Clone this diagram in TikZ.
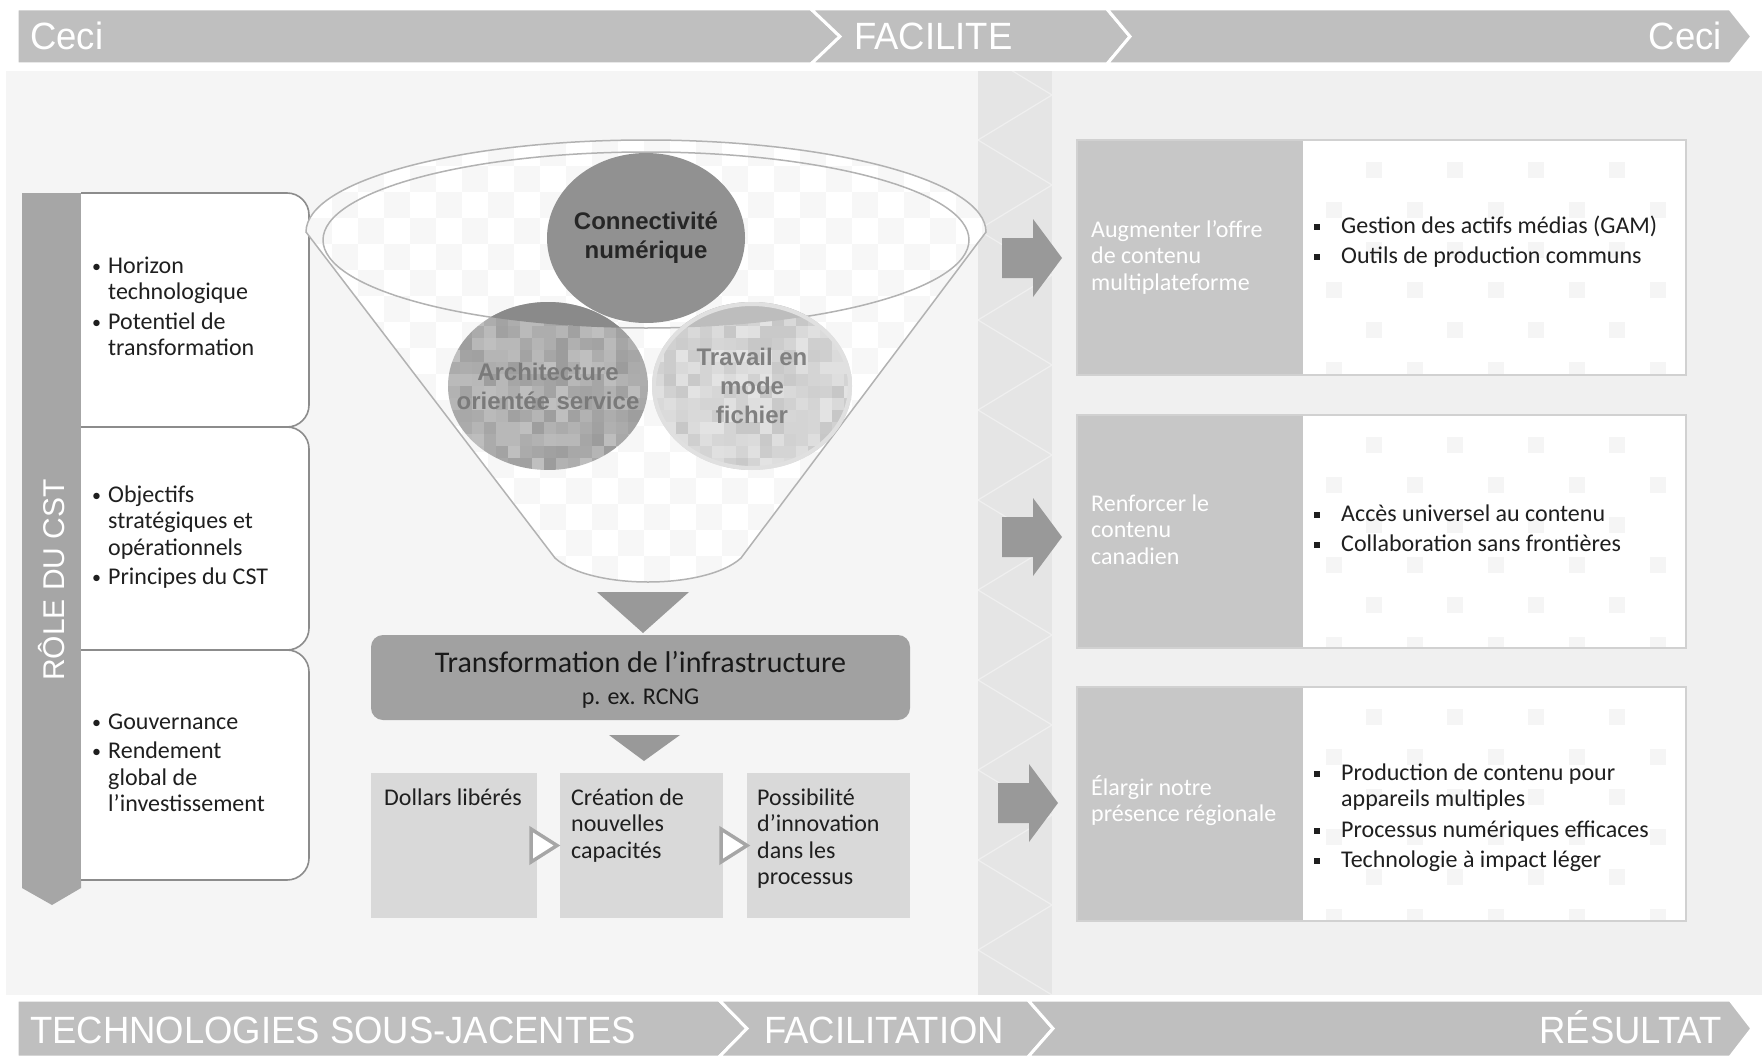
\documentclass[tikz,border=0pt]{standalone}
\usepackage{fontspec}
\setmainfont{Carlito}
\newfontfamily\arialfont{Liberation Sans}
\newfontfamily\barfont[FakeStretch=0.96]{Liberation Sans}
\usetikzlibrary{calc,positioning}
\tikzset{
  bar/.style={fill=black!25, draw=white, line width=3pt},
  bartext/.style={font=\barfont\fontsize{38}{42}\selectfont, text=white, inner sep=0pt},
  rolebox/.style={fill=white, draw=black!45, line width=1.6pt, rounded corners=22pt},
  roletext/.style={font=\arialfont\fontsize{30}{34}\selectfont, text=white, inner sep=0pt, rotate=90},
  txt/.style={inner sep=0pt, anchor=base west, font=\fontsize{24}{26.5}\selectfont, text=black!88},
  whitetxt/.style={txt, text=white},
  funnelline/.style={draw=black!30, line width=1.5pt},
  bubble/.style={inner sep=0pt, align=center, font=\arialfont\bfseries\fontsize{24}{29}\selectfont},
  pointer/.style={fill=black!40},
  infrabox/.style={fill=black!37, rounded corners=12pt, minimum width=539pt, minimum height=85pt, inner sep=0pt},
  flowbox/.style={fill=black!15, minimum height=145pt, inner sep=0pt},
  hollow/.style={fill=white, draw=black!35, line width=3.5pt},
  outbox/.style={fill=black!22},
  outlist/.style={fill=white}
}
\newcommand\stack[1]{\begin{tabular}[t]{@{}l@{}}#1\end{tabular}}
\newcommand\blist[1]{\begin{tabular}[t]{@{}l@{}l@{}}#1\end{tabular}}
\newcommand\bul{\makebox[16pt][l]{\raisebox{1pt}{\fontsize{18}{18}\selectfont\textbullet}}}
\newcommand\sqbul{\makebox[27pt][l]{\rule[3.5pt]{6pt}{6pt}}}

\begin{document}
\begin{tikzpicture}[x=1pt, y=-1pt]
\useasboundingbox (0,0) rectangle (1762,1057);
\fill[white] (0,0) rectangle (1762,1057);

% panels
\fill[black!4] (6,71) rectangle (1762,995);
\fill[black!6] (1052,71) rectangle (1762,995);
\fill[black!10] (978,71) rectangle (1052,995);
\begin{scope}
  \clip (978,71) rectangle (1052,995);
  \foreach \k in {0,...,10}
    \draw[white, opacity=0.4, line width=1.2pt] (978,50+90*\k) -- (1052,95+90*\k) -- (978,140+90*\k);
\end{scope}

% top and bottom bars
\path[bar] (17,9) -- (811,9) -- (840,36.5) -- (811,64) -- (17,64) -- cycle;
\path[bar] (811,9) -- (1107,9) -- (1130,36.5) -- (1107,64) -- (811,64) -- (840,36.5) -- cycle;
\path[bar] (1107,9) -- (1730,9) -- (1752,36.5) -- (1730,64) -- (1107,64) -- (1130,36.5) -- cycle;
\node[bartext, anchor=base west] (ceci1) at (30,50) {Ceci};
\node[bartext, anchor=base west] (facilite) at (854,50) {FACILITE};
\node[bartext, anchor=base east] (ceci2) at (1722,50) {Ceci};

\path[bar] (17,1000) -- (719,1000) -- (747,1028.5) -- (719,1057) -- (17,1057) -- cycle;
\path[bar] (719,1000) -- (1028,1000) -- (1053,1028.5) -- (1028,1057) -- (719,1057) -- (747,1028.5) -- cycle;
\path[bar] (1028,1000) -- (1730,1000) -- (1752,1028.5) -- (1730,1057) -- (1028,1057) -- (1053,1028.5) -- cycle;
\node[bartext, anchor=base west] (techno) at (30,1043) {TECHNOLOGIES SOUS-JACENTES};
\node[bartext, anchor=base west] (facilitation) at (764,1043) {FACILITATION};
\node[bartext, anchor=base east] (resultat) at (1722,1043) {RÉSULTAT};

% role du CST
\fill[black!35] (22,193) -- (81,193) -- (81,888) -- (52,905) -- (22,888) -- cycle;
\node[roletext] (role) at (52,580) {RÔLE DU CST};
\filldraw[rolebox] (81,193) -- (309,193) -- (309,427) -- (81,427);
\filldraw[rolebox] (81,427) -- (309,427) -- (309,650) -- (81,650);
\filldraw[rolebox] (81,650) -- (309,650) -- (309,880) -- (81,880);
\node[txt] (horizon) at (92,273) {\blist{\bul & Horizon\\ & technologique\\[3pt] \bul & Potentiel de\\ & transformation}};
\node[txt] (objectifs) at (92,502) {\blist{\bul & Objectifs\\ & stratégiques et\\ & opérationnels\\[3pt] \bul & Principes du CST}};
\node[txt] (gouv) at (92,729) {\blist{\bul & Gouvernance\\[3pt] \bul & Rendement\\ & global de\\ & l’investissement}};

% funnel
\path[save path=\funnelp] (306,232) arc[start angle=180, end angle=0, x radius=340pt, y radius=92pt]
  -- (741,558) .. controls (706,590) and (590,590) .. (555,558) -- cycle;
\fill[black!3, use path=\funnelp];
\begin{scope}
  \clip[use path=\funnelp];
  \foreach \i in {0,...,26}
    \foreach \j in {0,...,17} {
      \pgfmathtruncatemacro\odd{mod(\i+\j,2)}
      \ifnum\odd=0 \fill[white] (306+26*\i,140+26*\j) rectangle ++(26,26); \fi
    }
\end{scope}
\draw[funnelline, use path=\funnelp];
\draw[funnelline] (646,240) ellipse [x radius=323pt, y radius=88pt];

% bubbles
\pgfmathsetseed{11}
\begin{scope}
  \clip (548,386) ellipse [x radius=100pt, y radius=84pt];
  \foreach \i in {0,...,16}
    \foreach \j in {0,...,13} {
      \pgfmathtruncatemacro\g{25+15*rnd}
      \fill[black!\g] (448+12*\i,302+12*\j) rectangle ++(12,12);
    }
  \fill[black!46] (646,240) ellipse [x radius=323pt, y radius=88pt];
\end{scope}
\begin{scope}
  \clip (752,386) ellipse [x radius=100pt, y radius=84pt];
  \foreach \i in {0,...,16}
    \foreach \j in {0,...,13} {
      \pgfmathtruncatemacro\g{11+12*rnd}
      \fill[black!\g] (652+12*\i,302+12*\j) rectangle ++(12,12);
    }
  \fill[black!26] (646,240) ellipse [x radius=323pt, y radius=88pt];
\end{scope}
\draw[black!12, line width=4pt] (752,386) ellipse [x radius=98pt, y radius=82pt];
\fill[black!43] (646,238) ellipse [x radius=99pt, y radius=85pt];
\node[bubble, text=black!85] (connect) at (646,238) {Connectivité\\numérique};
\node[bubble, text=black!52] (soa) at (548,386) {Architecture\\orientée service};
\node[bubble, text=black!50] (fichier) at (752,386) {Travail en\\mode\\fichier};

% infrastructure
\fill[pointer] (597,592) -- (689,592) -- (643,633) -- cycle;
\node[infrabox] (infra) at (640.5,677.5) {};
\node[inner sep=0pt, anchor=base, font=\fontsize{30}{32}\selectfont, text=black!90] (infratitle) at (640.5,672) {Transformation de l’infrastructure};
\node[inner sep=0pt, anchor=base, font=\fontsize{24}{26}\selectfont, text=black!90] (rcng) at (640.5,704) {p. ex. RCNG};
\fill[pointer] (609,735) -- (680,735) -- (644,761) -- cycle;

\node[flowbox, minimum width=166pt] (dollars) at (454,845.5) {};
\node[flowbox, minimum width=163pt] (creation) at (641.5,845.5) {};
\node[flowbox, minimum width=163pt] (innov) at (828.5,845.5) {};
\node[txt] (dollarstxt) at (384,805) {\stack{Dollars libérés}};
\node[txt] (creationtxt) at (571,805) {\stack{Création de\\nouvelles\\capacités}};
\node[txt] (innovtxt) at (757,805) {\stack{Possibilité\\d’innovation\\dans les\\processus}};
\draw[hollow] (531,829) -- (557,845.5) -- (531,862) -- cycle;
\draw[hollow] (721,829) -- (747,845.5) -- (721,862) -- cycle;

% outcomes
\foreach \t/\b in {140/375,415/648,687/921} {
  \fill[outbox] (1077,\t) rectangle (1303,\b);
  \fill[outlist] (1303,\t) rectangle (1686,\b);
  \begin{scope}
    \clip (1303,\t) rectangle (1686,\b);
    \foreach \r in {0,...,5}
      \foreach \c in {0,...,4} {
        \pgfmathsetmacro\px{1326+81*\c+40*mod(\r+1,2)}
        \fill[black!4] (\px,\t+22+40*\r) rectangle ++(16,16);
      }
  \end{scope}
  \draw[black!18, line width=1.5pt] (1077,\t) rectangle (1686,\b);
}
\foreach \ax/\ay in {1002/258,1002/537,998/803}
  \fill[pointer] (\ax,\ay-20) -- (\ax+31,\ay-20) -- (\ax+31,\ay-39) -- (\ax+60,\ay)
    -- (\ax+31,\ay+39) -- (\ax+31,\ay+20) -- (\ax,\ay+20) -- cycle;

\node[whitetxt] (offre) at (1091,237) {\stack{Augmenter l’offre\\de contenu\\multiplateforme}};
\node[whitetxt] (canadien) at (1091,511) {\stack{Renforcer le\\contenu\\canadien}};
\node[whitetxt] (regional) at (1091,795) {\stack{Élargir notre\\présence régionale}};
\node[txt] (gam) at (1314,233) {\blist{\sqbul & Gestion des actifs médias (GAM)\\[4pt] \sqbul & Outils de production communs}};
\node[txt] (acces) at (1314,521) {\blist{\sqbul & Accès universel au contenu\\[4pt] \sqbul & Collaboration sans frontières}};
\node[txt] (production) at (1314,780) {\blist{\sqbul & Production de contenu pour\\ & appareils multiples\\[4pt] \sqbul & Processus numériques efficaces\\[4pt] \sqbul & Technologie à impact léger}};
\end{tikzpicture}
\end{document}
